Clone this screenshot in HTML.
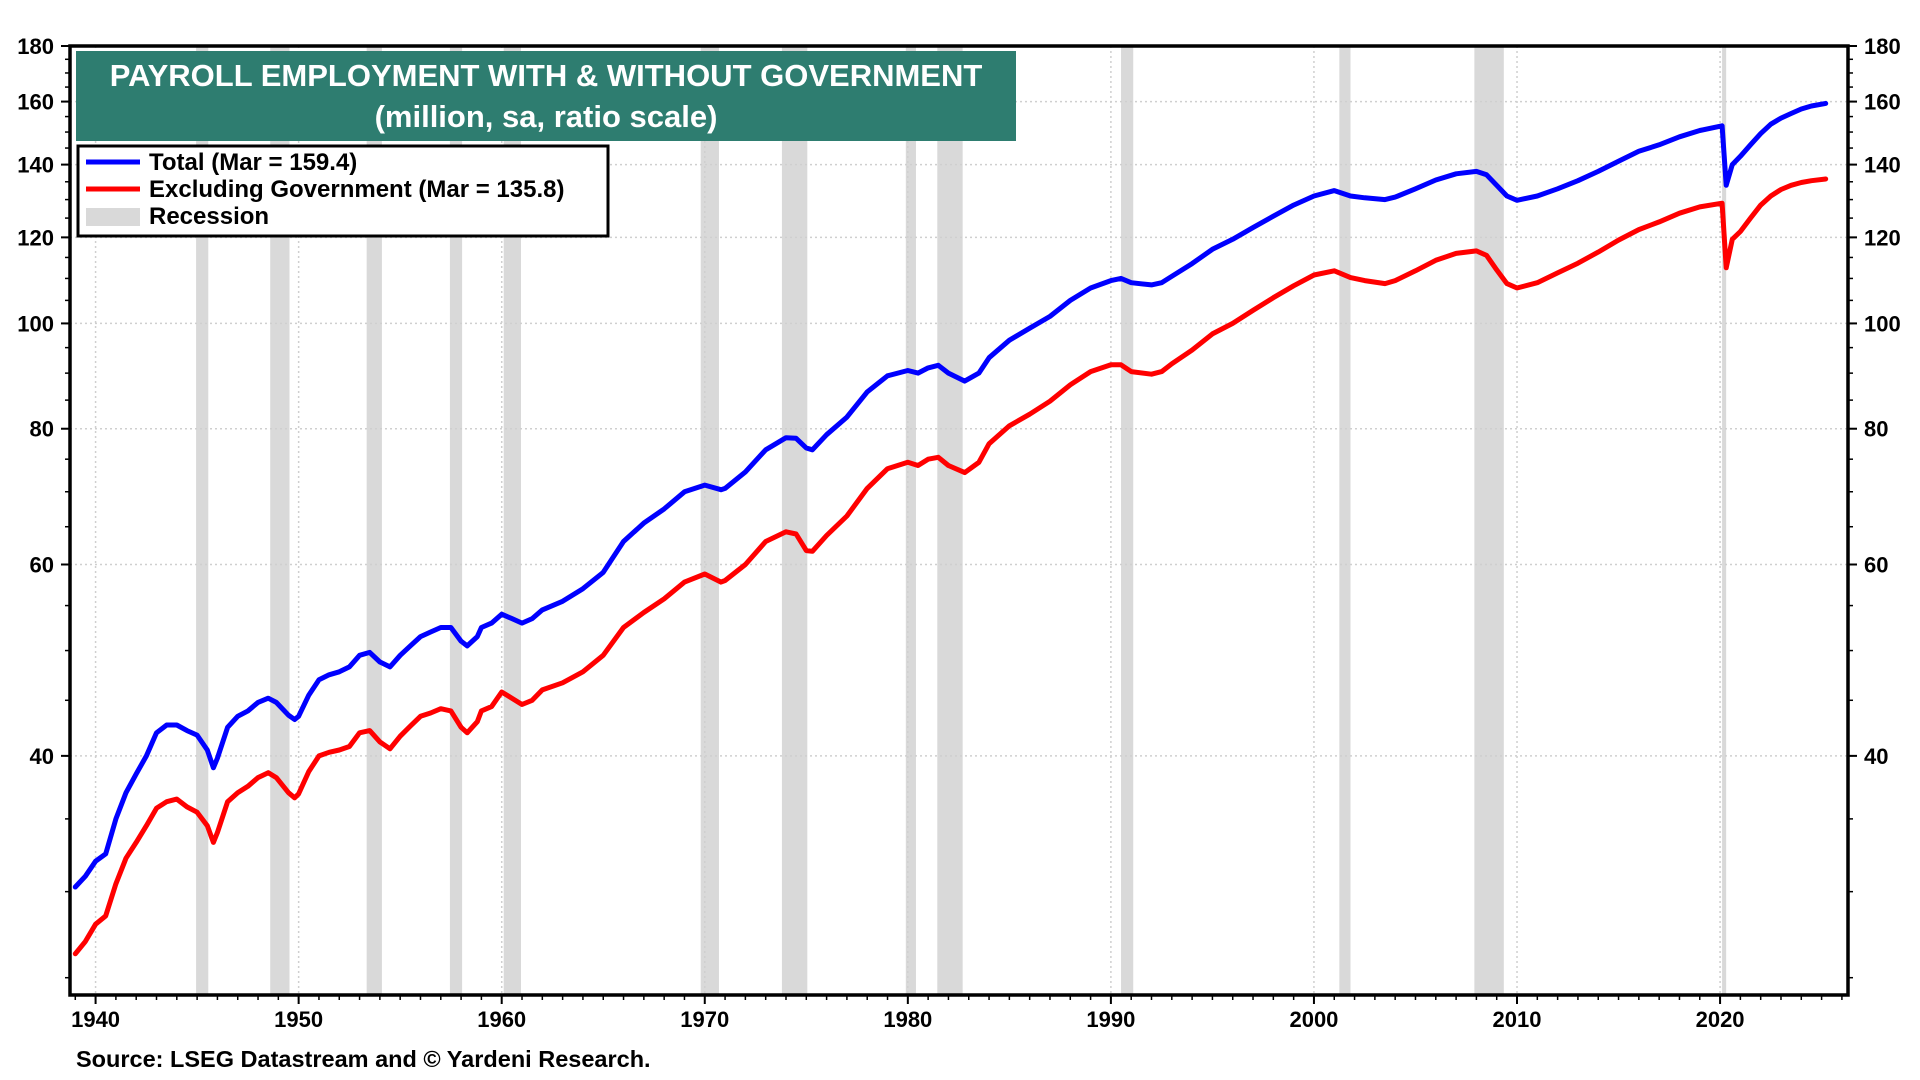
<!DOCTYPE html>
<html><head><meta charset="utf-8"><style>
html,body{margin:0;padding:0;background:#fff;width:1920px;height:1080px;overflow:hidden}
svg{display:block}
text{font-family:"Liberation Sans",Arial,sans-serif;font-weight:bold}
</style></head><body>
<svg id="chart" width="1920" height="1080" xmlns="http://www.w3.org/2000/svg">
<g id="bands"></g>
<g id="grid"></g>
<g id="lines"></g>
<g id="axes"></g>
<rect x="76" y="51" width="940" height="90" fill="#2e7d70"/>
<text x="546" y="86" fill="#fff" font-size="31" text-anchor="middle">PAYROLL EMPLOYMENT WITH &amp; WITHOUT GOVERNMENT</text>
<text x="546" y="127" fill="#fff" font-size="31" text-anchor="middle">(million, sa, ratio scale)</text>
<g>
<rect x="78" y="146" width="530" height="90" fill="#fff" stroke="#000" stroke-width="3"/>
<line x1="86" y1="162" x2="140" y2="162" stroke="#0000ff" stroke-width="5"/>
<text x="149" y="170" font-size="24">Total (Mar = 159.4)</text>
<line x1="86" y1="189" x2="140" y2="189" stroke="#ff0000" stroke-width="5"/>
<text x="149" y="197" font-size="24">Excluding Government (Mar = 135.8)</text>
<rect x="86" y="208" width="54" height="18" fill="#d9d9d9"/>
<text x="149" y="224" font-size="24">Recession</text>
</g>
<text x="76" y="1067" font-size="23.5">Source: LSEG Datastream and © Yardeni Research.</text>
</svg>
<script>
const years=[1939,1939.5,1940,1940.5,1941,1941.5,1942,1942.5,1943,1943.5,1944,1944.5,1945,1945.5,1945.8,1946,1946.5,1947,1947.5,1948,1948.5,1948.9,1949.5,1949.8,1950,1950.5,1951,1951.5,1952,1952.5,1953,1953.5,1954,1954.5,1955,1955.5,1956,1956.5,1957,1957.5,1958,1958.3,1958.8,1959,1959.5,1960,1960.5,1961,1961.5,1962,1963,1964,1965,1966,1967,1968,1969,1970,1970.8,1971,1972,1973,1974,1974.5,1975,1975.3,1976,1977,1978,1979,1980,1980.5,1981,1981.5,1982,1982.8,1983.5,1984,1985,1986,1987,1988,1989,1990,1990.5,1991,1992,1992.5,1993,1994,1995,1996,1997,1998,1999,2000,2001,2001.8,2002.5,2003.5,2004,2005,2006,2007,2008,2008.5,2009,2009.5,2010,2011,2012,2013,2014,2015,2016,2017,2018,2019,2020.1,2020.3,2020.6,2021,2021.5,2022,2022.5,2023,2023.5,2024,2024.5,2025.2];
const totalValues=[30.3,31,32,32.5,35,37,38.5,40,42,42.7,42.7,42.2,41.8,40.5,39,39.8,42.5,43.5,44,44.8,45.2,44.8,43.6,43.2,43.5,45.5,47,47.5,47.8,48.3,49.5,49.8,48.8,48.3,49.5,50.5,51.5,52,52.5,52.5,51,50.5,51.5,52.5,53,54,53.5,53,53.5,54.5,55.5,57,59,63,65.5,67.5,70,71,70.3,70.5,73,76.5,78.5,78.4,76.8,76.5,79,82,86.5,89.5,90.5,90,91,91.5,90,88.5,90,93,96.5,99,101.5,105,107.8,109.5,110,109,108.5,109,110.5,113.5,117,119.5,122.5,125.5,128.5,131,132.5,131,130.5,130,130.7,133,135.5,137.3,138,137,134,131,129.8,131,133,135.3,138,141,144,146,148.5,150.5,152,134,140,142.5,146,149.5,152.5,154.5,156,157.5,158.5,159.4];
const exGovValues=[26.3,27,28,28.5,30.5,32.2,33.3,34.5,35.8,36.3,36.5,35.9,35.5,34.5,33.3,34,36.3,37,37.5,38.2,38.6,38.2,37,36.6,36.9,38.7,40,40.3,40.5,40.8,42,42.2,41.2,40.6,41.7,42.6,43.5,43.8,44.2,44,42.5,42,43,44,44.4,45.8,45.2,44.6,45,46,46.7,47.8,49.5,52.5,54.2,55.8,57.8,58.8,57.8,58,60,63,64.3,64,61.8,61.7,63.8,66.5,70.5,73.5,74.5,74,75,75.3,74,72.9,74.5,77.5,80.5,82.5,84.8,87.8,90.3,91.6,91.6,90.3,89.8,90.3,91.8,94.5,97.8,100,102.8,105.6,108.3,110.8,111.8,110.2,109.5,108.8,109.5,111.8,114.3,116,116.6,115.5,112,108.8,107.8,109,111.3,113.6,116.3,119.3,122,124,126.3,128,129,112.5,119.5,121.5,125,128.5,131,132.8,134,134.8,135.3,135.8];
const recStart=[1944.95,1948.6,1953.35,1957.45,1960.1,1969.8,1973.8,1979.9,1981.45,1990.5,2001.25,2007.9,2020.1];
const recEnd=[1945.55,1949.55,1954.1,1958.05,1960.95,1970.7,1975.05,1980.4,1982.7,1991.1,2001.8,2009.35,2020.3];
const yTicks=[40,60,80,100,120,140,160,180];
const xTicks=[1940,1950,1960,1970,1980,1990,2000,2010,2020];

const L=70,R=1848,T=46,B=995,YMIN=24.1,YMAX=180,X0=1938.74,X1=2026.3;
const NS='http://www.w3.org/2000/svg';
function x(v){return L+(v-X0)/(X1-X0)*(R-L);}
function y(v){return T+Math.log(YMAX/v)/Math.log(YMAX/YMIN)*(B-T);}
function mk(tag,attrs,parent){const e=document.createElementNS(NS,tag);for(const k in attrs)e.setAttribute(k,attrs[k]);parent.appendChild(e);return e;}
const bands=document.getElementById('bands'),grid=document.getElementById('grid'),lines=document.getElementById('lines'),axes=document.getElementById('axes');
recStart.forEach((s,i)=>{
  const r=mk('rect',{x:x(s),y:T,width:x(recEnd[i])-x(s),height:B-T,fill:'#d9d9d9'},bands);
  
  
});
yTicks.forEach(v=>{
  if(v<180){const g=mk('line',{x1:L,x2:R,y1:y(v),y2:y(v),stroke:'#cfcfcf','stroke-width':1.5,'stroke-dasharray':'2 3'},grid);
  
  }
  const t1=mk('text',{x:54,y:y(v)+8,'font-size':22,'text-anchor':'end'},axes);t1.textContent=v;
  
  
  const t2=mk('text',{x:1864,y:y(v)+8,'font-size':22},axes);t2.textContent=v;
  
  
});
for(let v=25;v<=180;v+=5){
  mk('line',{x1:L-5,x2:L,y1:y(v),y2:y(v),stroke:'#000','stroke-width':1.5},axes);
  mk('line',{x1:R,x2:R+5,y1:y(v),y2:y(v),stroke:'#000','stroke-width':1.5},axes);
}
yTicks.forEach(v=>{mk('line',{x1:L-9,x2:L,y1:y(v),y2:y(v),stroke:'#000','stroke-width':2},axes);mk('line',{x1:R,x2:R+9,y1:y(v),y2:y(v),stroke:'#000','stroke-width':2},axes);});
xTicks.forEach(v=>{
  const g=mk('line',{x1:x(v),x2:x(v),y1:T,y2:B,stroke:'#cfcfcf','stroke-width':1.5,'stroke-dasharray':'2 3'},grid);
  
  
  const t=mk('text',{x:x(v),y:B+32,'font-size':22,'text-anchor':'middle'},axes);t.textContent=v;
  
  
  mk('line',{x1:x(v),x2:x(v),y1:B,y2:B+9,stroke:'#000','stroke-width':2},axes);
});
for(let yr=1939;yr<=2026;yr++){mk('line',{x1:x(yr),x2:x(yr),y1:B,y2:B+5,stroke:'#000','stroke-width':1.5},axes);}
const frame=mk('rect',{x:L,y:T,width:R-L,height:B-T,fill:'none',stroke:'#000','stroke-width':3.5},axes);


function series(vals,color,name){
  const pts=years.map((yr,i)=>x(yr).toFixed(1)+','+y(vals[i]).toFixed(1)).join(' ');
  const p=mk('polyline',{points:pts,fill:'none',stroke:color,'stroke-width':5,'stroke-linejoin':'round','stroke-linecap':'round'},lines);
  
  
}
series(exGovValues,'#ff0000','excluding-government-line');
series(totalValues,'#0000ff','total-line');
</script>
</body></html>
